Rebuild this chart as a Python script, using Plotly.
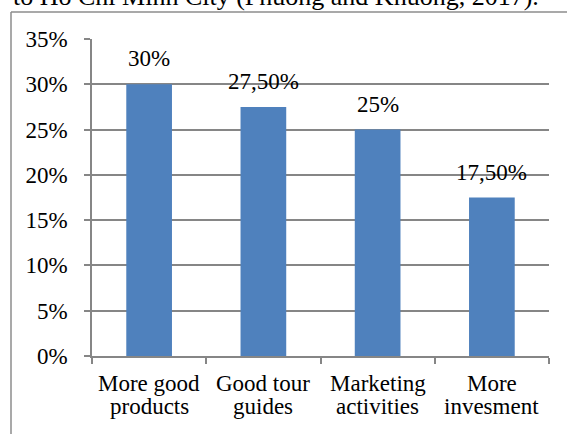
import plotly.graph_objects as go

categories = ["More good products", "Good tour guides", "Marketing activities", "More invesment"]
label_line1 = ["More good", "Good tour", "Marketing", "More"]
label_line2 = ["products", "guides", "activities", "invesment"]
values = [30, 27.5, 25, 17.5]
value_labels = ["30%", "27,50%", "25%", "17,50%"]
y_tickvals = [0, 5, 10, 15, 20, 25, 30, 35]
y_ticktext = ["0%", "5%", "10%", "15%", "20%", "25%", "30%", "35%"]
caption = "to Ho Chi Minh City (Phuong and Khuong, 2017)."

FONT = "Liberation Serif"
GRID = "#868686"

fig = go.Figure(go.Bar(x=categories, y=values, marker=dict(color="#4F81BD", line=dict(width=0)), width=0.4))

W, H = 567, 434
L, R, T, B = 92, 18, 39, 78
pw, ph = W - L - R, H - T - B

def px(x):
    return (x - L) / pw

def py(y):
    return (H - B - y) / ph

annotations = []
for c, v, t in zip(categories, values, value_labels):
    annotations.append(dict(x=c, y=v, xref="x", yref="y", text=t, showarrow=False,
                            yanchor="bottom", yshift=11, font=dict(family=FONT, size=23, color="black")))
for c, a, b in zip(categories, label_line1, label_line2):
    annotations.append(dict(x=c, y=0, xref="x", yref="paper", text=a, showarrow=False,
                            yanchor="bottom", yshift=-42, font=dict(family=FONT, size=23, color="black")))
    annotations.append(dict(x=c, y=0, xref="x", yref="paper", text=b, showarrow=False,
                            yanchor="bottom", yshift=-65, font=dict(family=FONT, size=23, color="black")))
annotations.append(dict(x=px(11), y=1, xref="paper", yref="paper", text=caption, showarrow=False,
                        xanchor="left", yanchor="bottom", yshift=26,
                        font=dict(family=FONT, size=26, color="black")))

fig.update_layout(
    width=W, height=H,
    margin=dict(l=L, r=R, t=T, b=B, pad=0),
    paper_bgcolor="white", plot_bgcolor="white",
    showlegend=False,
    bargap=0.6,
    annotations=annotations,
    shapes=[
        dict(type="line", xref="paper", yref="paper", x0=px(11), x1=px(600), y0=py(12), y1=py(12),
             line=dict(color="#8c8c8c", width=1.5)),
        dict(type="line", xref="paper", yref="paper", x0=px(11), x1=px(11), y0=py(12), y1=py(460),
             line=dict(color="#8c8c8c", width=1.5)),
    ],
    xaxis=dict(type="category", showticklabels=False, ticks="outside", tickson="boundaries",
               ticklen=6, tickcolor=GRID, tickwidth=1.5, showline=True, linecolor=GRID, linewidth=1.5,
               showgrid=False, zeroline=False, fixedrange=True),
    yaxis=dict(range=[0, 35], tickvals=y_tickvals, ticktext=y_ticktext, ticks="outside", ticklen=6,
               tickcolor=GRID, tickwidth=1.5, showline=True, linecolor=GRID, linewidth=1.5,
               showgrid=True, gridcolor=GRID, gridwidth=1.5, zeroline=False,
               ticklabelstandoff=12, tickfont=dict(family=FONT, size=23, color="black")),
)

fig.write_html("out.html", config={"displayModeBar": False},
               post_script="document.body.style.margin='0';document.body.style.overflow='hidden';")
